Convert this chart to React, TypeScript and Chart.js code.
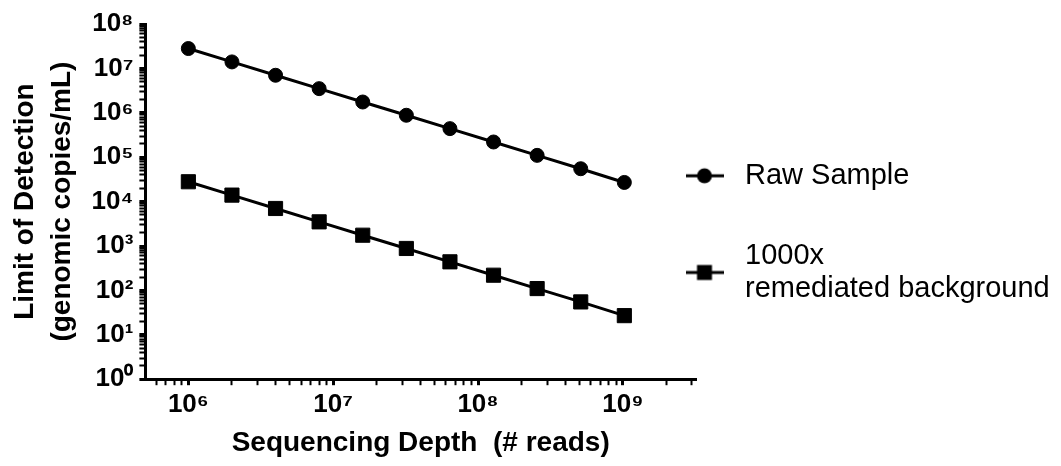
import React, { useEffect, useRef } from "react";
import { Chart, registerables } from "chart.js";

Chart.register(...registerables);

// ---- data ----
const depths = [1e6, 2e6, 4e6, 8e6, 1.6e7, 3.2e7, 6.4e7, 1.28e8, 2.56e8, 5.12e8, 1.024e9];
const rawSample = [2.8e7, 1.4e7, 7e6, 3.5e6, 1.75e6, 8.8e5, 4.4e5, 2.2e5, 1.1e5, 5.5e4, 2.7e4];
const remediated = [2.8e4, 1.4e4, 7000, 3500, 1750, 880, 440, 220, 110, 55, 27];
const seriesNames = ["Raw Sample", "1000x remediated background"];
const legendLines = [["Raw Sample", ""], ["1000x", "remediated background"]];
const xTitle = "Sequencing Depth  (# reads)";
const yTitle = ["Limit of Detection", "(genomic copies/mL)"];
const xRange = [5.05e5, 3.2e9];
const yRange = [1, 1e8];
const xMajorExps = [5, 6, 7, 8, 9];
const yMajorExps = [0, 1, 2, 3, 4, 5, 6, 7, 8];
const minorMultipliers = [1, 2, 3, 4, 5, 6, 7, 8, 9];
const superscripts = ["⁰", "¹", "²", "³", "⁴", "⁵", "⁶", "⁷", "⁸", "⁹"];

const FONT = "'Liberation Sans', Arial, sans-serif";

function buildTickValues(exps: number[], min: number, max: number) {
  const out: number[] = [];
  exps.forEach((e) => {
    minorMultipliers.forEach((m) => {
      const v = m * Math.pow(10, e);
      if (v >= min * 0.999 && v <= max * 1.001) out.push(v);
    });
  });
  return out;
}

function isPow10(v: number) {
  const l = Math.log10(v);
  return Math.abs(l - Math.round(l)) < 1e-9;
}

function tickLabel(v: number) {
  if (!isPow10(v)) return "";
  const e = Math.round(Math.log10(v));
  return "10" + String(e).split("").map((d) => superscripts[+d]).join("");
}

function makeLegendImage(kind: "circle" | "rect") {
  const c = document.createElement("canvas");
  const W = 38;
  const H = 60;
  c.width = W;
  c.height = H;
  const ctx = c.getContext("2d")!;
  const cy = kind === "circle" ? H / 2 : H / 2 + 17;
  ctx.fillStyle = "#000";
  ctx.fillRect(0, cy - 1.5, 38, 3);
  if (kind === "circle") {
    ctx.beginPath();
    ctx.arc(19, cy, 7.5, 0, Math.PI * 2);
    ctx.fill();
  } else {
    ctx.fillRect(19 - 7.5, cy - 7.5, 15, 15);
  }
  return c;
}

// let the legend box start a little left of the plot's right edge, as in the original
const legendShift = {
  id: "legendShift",
  afterLayout(chart: any) {
    const lg = chart.legend;
    if (lg) {
      lg.left = chart.chartArea.right - 30.5;
      lg.top -= 8.5;
      lg.bottom -= 8.5;
    }
  },
};

export default function App() {
  const ref = useRef<HTMLCanvasElement | null>(null);

  useEffect(() => {
    document.body.style.margin = "0";
    const canvas = ref.current;
    if (!canvas) return;
    const images = [makeLegendImage("circle"), makeLegendImage("rect")];
    const xTicks = buildTickValues(xMajorExps, xRange[0], xRange[1]);
    const yTicks = buildTickValues(yMajorExps, yRange[0], yRange[1]);

    const axisCommon = {
      type: "logarithmic" as const,
      border: { display: true, color: "#000", width: 3 },
      grid: {
        display: true,
        drawOnChartArea: false,
        drawTicks: true,
        tickLength: 6,
        tickColor: "#000",
        color: "#000",
        tickWidth: (ctx: any) => (ctx.tick && isPow10(ctx.tick.value) ? 3 : 2),
      },
    };

    const chart = new Chart(canvas, {
      type: "line",
      data: {
        datasets: [
          {
            label: seriesNames[0],
            data: depths.map((x, i) => ({ x, y: rawSample[i] })),
            borderColor: "#000",
            backgroundColor: "#000",
            borderWidth: 3,
            pointStyle: "circle",
            pointRadius: 7,
            pointBorderWidth: 1,
            pointBackgroundColor: "#000",
            pointBorderColor: "#000",
          },
          {
            label: seriesNames[1],
            data: depths.map((x, i) => ({ x, y: remediated[i] })),
            borderColor: "#000",
            backgroundColor: "#000",
            borderWidth: 3,
            pointStyle: "rect",
            pointRadius: 10,
            pointBorderWidth: 1,
            pointBackgroundColor: "#000",
            pointBorderColor: "#000",
          },
        ],
      },
      options: {
        responsive: false,
        animation: false,
        layout: { padding: { left: 6, top: 24, right: 0, bottom: 4 } },
        plugins: {
          tooltip: { enabled: false },
          legend: {
            position: "right",
            maxWidth: 365,
            labels: {
              usePointStyle: true,
              pointStyleWidth: 52,
              padding: 13,
              color: "#000",
              font: { family: FONT, size: 29, lineHeight: 1.15 },
              generateLabels: (ch: any) =>
                ch.data.datasets.map((ds: any, i: number) => ({
                  text: legendLines[i],
                  pointStyle: images[i],
                  fillStyle: "#000",
                  strokeStyle: "#000",
                  lineWidth: 0,
                  hidden: false,
                  datasetIndex: i,
                })),
            },
          },
        },
        scales: {
          x: {
            ...axisCommon,
            min: xRange[0],
            max: xRange[1],
            afterBuildTicks: (scale: any) => {
              scale.ticks = xTicks.map((v) => ({ value: v, major: isPow10(v) }));
            },
            ticks: {
              autoSkip: false,
              maxRotation: 0,
              color: "#000",
              padding: 4,
              font: { family: FONT, size: 26, weight: "bold" },
              callback: (v: any) => tickLabel(Number(v)),
            },
            title: {
              display: true,
              text: xTitle,
              color: "#000",
              font: { family: FONT, size: 28, weight: "bold" },
              padding: { top: 2, bottom: 2 },
            },
          },
          y: {
            ...axisCommon,
            min: yRange[0],
            max: yRange[1],
            afterBuildTicks: (scale: any) => {
              scale.ticks = yTicks.map((v) => ({ value: v, major: isPow10(v) }));
            },
            ticks: {
              autoSkip: false,
              color: "#000",
              padding: 6,
              font: { family: FONT, size: 26, weight: "bold" },
              callback: (v: any) => tickLabel(Number(v)),
            },
            title: {
              display: true,
              text: yTitle,
              color: "#000",
              font: { family: FONT, size: 28, weight: "bold", lineHeight: 1.35 },
              padding: { top: 0, bottom: 4 },
            },
          },
        },
      },
      plugins: [legendShift],
    } as any);

    return () => chart.destroy();
  }, []);

  return (
    <div style={{ width: 1061, height: 466 }}>
      <canvas ref={ref} width={1061} height={466} />
    </div>
  );
}
